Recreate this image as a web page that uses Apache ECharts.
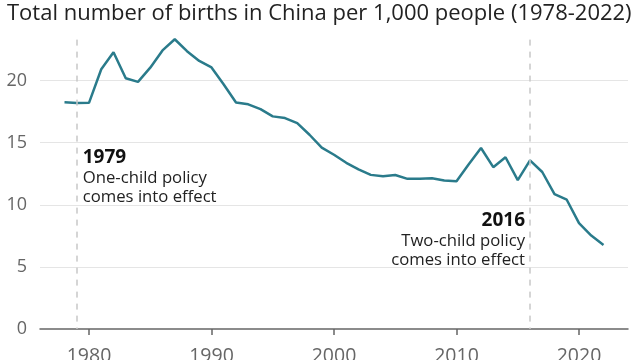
<!DOCTYPE html>
<html>
<head>
<meta charset="utf-8">
<script src="https://cdn.jsdelivr.net/npm/echarts@6/dist/echarts.min.js"></script>
<style>
html,body{margin:0;padding:0;background:#fff;}
#c{width:640px;height:360px;}
</style>
</head>
<body>
<div id="c"></div>
<script>
var titleText = 'Total number of births in China per 1,000 people (1978-2022)';
var axisYears = ['1976','1977','1978','1979','1980','1981','1982','1983','1984','1985','1986','1987','1988','1989','1990','1991','1992','1993','1994','1995','1996','1997','1998','1999','2000','2001','2002','2003','2004','2005','2006','2007','2008','2009','2010','2011','2012','2013','2014','2015','2016','2017','2018','2019','2020','2021','2022','2023','2024'];
var years = ['1978','1979','1980','1981','1982','1983','1984','1985','1986','1987','1988','1989','1990','1991','1992','1993','1994','1995','1996','1997','1998','1999','2000','2001','2002','2003','2004','2005','2006','2007','2008','2009','2010','2011','2012','2013','2014','2015','2016','2017','2018','2019','2020','2021','2022'];
var births = [18.25,18.2,18.21,20.91,22.28,20.19,19.9,21.04,22.43,23.33,22.37,21.58,21.06,19.68,18.24,18.09,17.7,17.12,16.98,16.57,15.64,14.6,14.03,13.38,12.86,12.41,12.29,12.4,12.09,12.1,12.14,11.95,11.9,13.27,14.57,13.03,13.83,11.99,13.57,12.64,10.86,10.41,8.52,7.52,6.77];
var yTicks = [0,5,10,15,20,25];
var events = [
  {year:'1979', title:'1979', lines:['One-child policy','comes into effect'], side:'right', at:14.53},
  {year:'2016', title:'2016', lines:['Two-child policy','comes into effect'], side:'left', at:9.47}
];

var font = 'Open Sans';
var chart = echarts.init(document.getElementById('c'), null, {renderer:'canvas'});
var seriesData = years.map(function(y,i){return [y, births[i]];});
var option = {
  animation:false,
  backgroundColor:'#fff',
  title:{text:titleText, left:2, top:-2, textStyle:{fontFamily:font, fontSize:22, fontWeight:'normal', color:'#222'}},
  grid:{left:40, right:12, top:18.5, bottom:31, containLabel:false, outerBoundsMode:'none'},
  xAxis:{type:'category', data:axisYears, boundaryGap:false,
    axisLine:{show:true, lineStyle:{color:'#666', width:1.5}},
    axisTick:{show:true, length:6, interval:function(i,v){return (+v)%10===0;}, lineStyle:{color:'#666', width:1.5}},
    axisLabel:{interval:function(i,v){return (+v)%10===0;}, margin:17, fontFamily:font, fontSize:19.5, color:'#666'},
    splitLine:{show:false}},
  yAxis:{type:'value', min:yTicks[0], max:yTicks[yTicks.length-1], interval:5,
    axisLine:{show:false}, axisTick:{show:false},
    axisLabel:{margin:13, fontFamily:font, fontSize:18, color:'#666', showMaxLabel:false},
    splitLine:{show:true, showMinLine:false, showMaxLine:false, lineStyle:{color:['#e5e5e5','#e5e5e5','#e5e5e5','#e5e5e5','#e5e5e5','rgba(0,0,0,0)'], width:1}}},
  series:[{type:'line', data:seriesData, showSymbol:false, symbol:'none',
    lineStyle:{color:'#2a7b8b', width:2.5}, itemStyle:{color:'#2a7b8b'},
    markLine:{silent:true, symbol:['none','none'], label:{show:false},
      lineStyle:{color:'#c8c8c8', type:[6,6], width:1.5},
      data: events.map(function(e){return [{coord:[e.year, 23.3]},{coord:[e.year, 0]}];})}
  }]
};
chart.setOption(option);

var g = [];
events.forEach(function(e){
  var p = chart.convertToPixel({gridIndex:0}, [e.year, e.at]);
  var x = e.side==='right' ? p[0]+6 : p[0]-5;
  var align = e.side==='right' ? 'left' : 'right';
  g.push({type:'text', x:x, y:p[1], style:{text:e.title, fontFamily:font, fontSize:19, fontWeight:'bold', fill:'#111', textAlign:align, textVerticalAlign:'top'}});
  e.lines.forEach(function(t,k){
    g.push({type:'text', x:x, y:p[1]+21+k*19.5, style:{text:t, fontFamily:font, fontSize:16.7, fill:'#222', textAlign:align, textVerticalAlign:'top'}});
  });
});
chart.setOption({graphic:g});
</script>
</body>
</html>
